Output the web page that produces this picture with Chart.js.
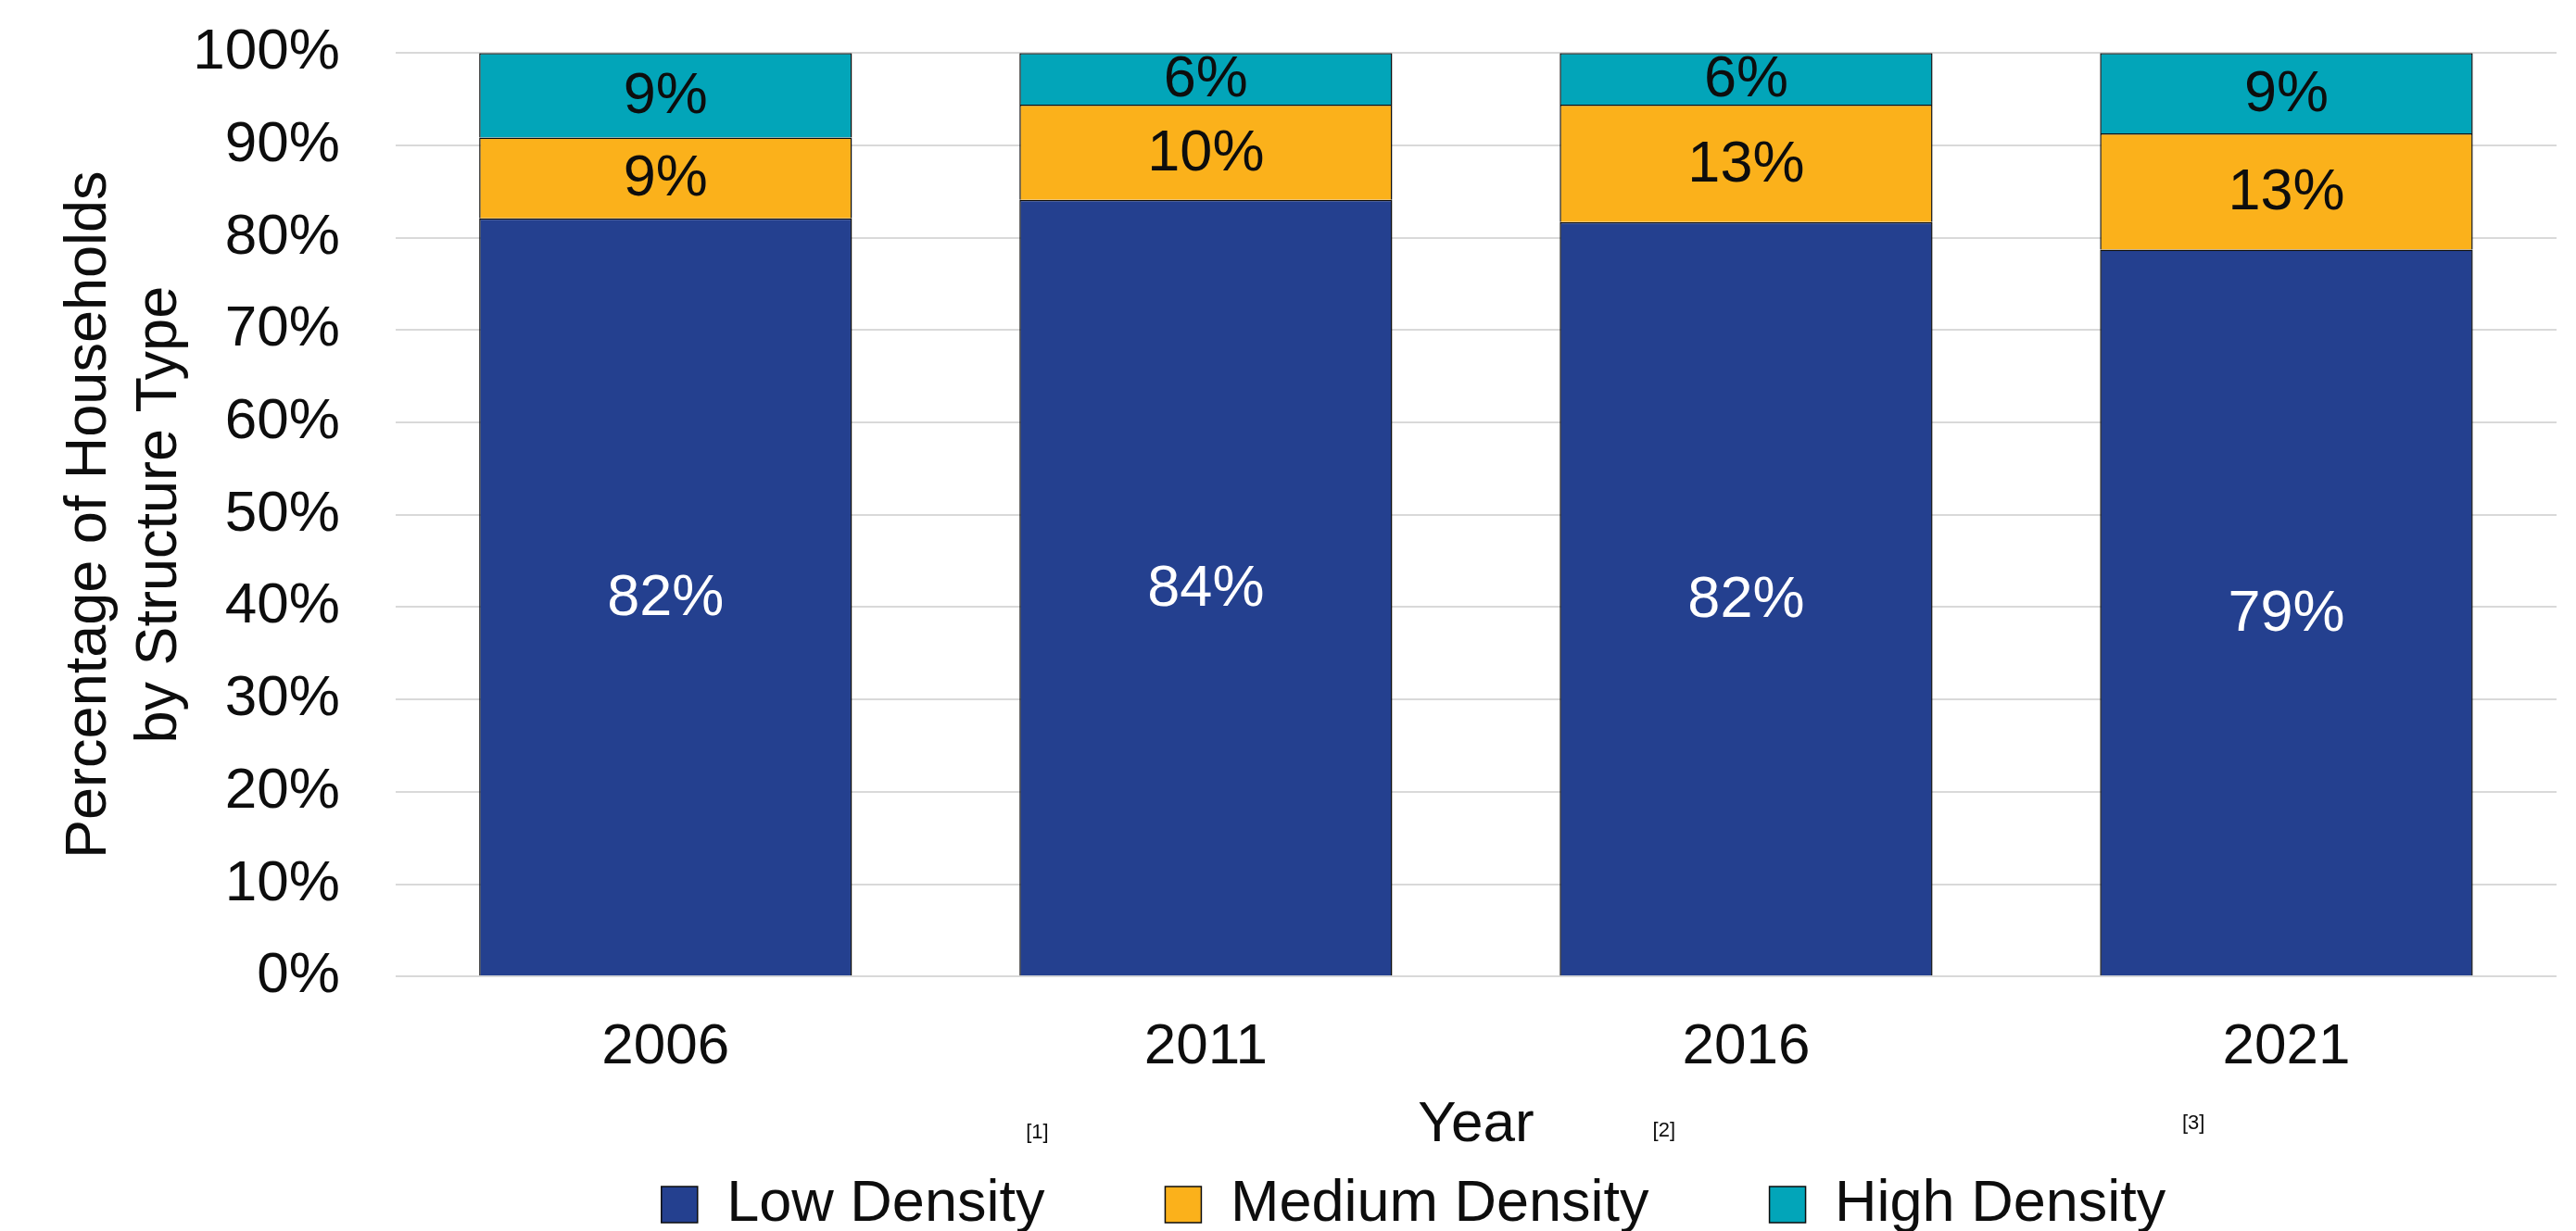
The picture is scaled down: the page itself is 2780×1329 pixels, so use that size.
<!DOCTYPE html>
<html>
<head>
<meta charset="utf-8">
<script src="https://cdn.jsdelivr.net/npm/chart.js@4.4.1/dist/chart.umd.min.js"></script>
<style>
    html, body { margin: 0; padding: 0; background: #fff; }
    #wrap { width: 2780px; height: 1329px; position: relative; }
</style>
</head>
<body>
<div id="wrap"><canvas id="myChart"></canvas></div>
<script>
const years = ['2006', '2011', '2016', '2021'];
const lowDensity = [82.1, 84.1, 81.7, 78.7];
const mediumDensity = [8.75, 10.3, 12.7, 12.6];
const highDensity = [9.15, 5.6, 5.6, 8.7];
const yTicks = [0, 10, 20, 30, 40, 50, 60, 70, 80, 90, 100];
const footnotes = ['[1]', '[2]', '[3]'];

// where the little footnote marks sit (fraction of plot width, canvas y)
const footnoteSpots = [[0.297, 1223], [0.587, 1221], [0.832, 1213]];

Chart.defaults.font.family = '"Liberation Sans", Arial, sans-serif';
Chart.defaults.color = '#0d0d0d';

// labels inside each segment
const segmentLabels = {
    id: 'segmentLabels',
    afterDatasetsDraw: (chart) => {
        const ctx = chart.ctx;
        ctx.save();
        ctx.font = '63px "Liberation Sans", Arial, sans-serif';
        ctx.textAlign = 'center';
        ctx.textBaseline = 'middle';
        chart.data.datasets.forEach((ds, i) => {
            const meta = chart.getDatasetMeta(i);
            meta.data.forEach((bar, j) => {
                const p = bar.getCenterPoint();
                ctx.fillStyle = i === 0 ? '#ffffff' : '#0d0d0d';
                ctx.fillText(Math.round(ds.data[j]) + '%', p.x, p.y + 2);
            });
        });
        ctx.restore();
    }
};

const footnoteMarks = {
    id: 'footnoteMarks',
    afterDraw: (chart) => {
        const ctx = chart.ctx;
        const area = chart.chartArea;
        ctx.save();
        ctx.font = '22px "Liberation Sans", Arial, sans-serif';
        ctx.fillStyle = '#0d0d0d';
        ctx.textAlign = 'center';
        ctx.textBaseline = 'middle';
        footnotes.forEach((t, i) => {
            const [fx, y] = footnoteSpots[i];
            ctx.fillText(t, area.left + fx * (area.right - area.left), y);
        });
        ctx.restore();
    }
};

// nudge the legend, the original is not centred on the canvas
const legendShift = {
    id: 'legendShift',
    afterLayout: (chart) => {
        const lg = chart.legend;
        lg.left += 146;
        lg.right += 146;
        lg.top -= 33;
        lg.bottom -= 33;
    }
};

const ctx = document.getElementById('myChart').getContext('2d');

const data = {
    labels: years,
    datasets: [{
        label: 'Low Density',
        data: lowDensity,
        backgroundColor: '#24408f',
        borderColor: '#0d0d0d',
        borderWidth: 1.5
    }, {
        label: 'Medium Density',
        data: mediumDensity,
        backgroundColor: '#fbb11b',
        borderColor: '#0d0d0d',
        borderWidth: 1.5
    }, {
        label: 'High Density',
        data: highDensity,
        backgroundColor: '#02a5b9',
        borderColor: '#0d0d0d',
        borderWidth: 1.5
    }]
};

const chart = new Chart(ctx, {
    type: 'bar',
    data: data,
    plugins: [segmentLabels, footnoteMarks, legendShift],
    options: {
        responsive: true,
        maintainAspectRatio: false,
        animation: false,
        categoryPercentage: 1,
        barPercentage: 0.69,
        layout: {
            padding: { top: 0, right: 21, bottom: -46, left: 0 }
        },
        plugins: {
            tooltip: { enabled: false },
            legend: {
                position: 'bottom',
                labels: {
                    boxWidth: 39,
                    boxHeight: 39,
                    padding: 130,
                    color: '#0d0d0d',
                    font: { size: 63 }
                }
            }
        },
        scales: {
            x: {
                stacked: true,
                grid: { display: false },
                border: { display: false },
                ticks: { padding: 32, color: '#0d0d0d', font: { size: 62 } },
                title: {
                    display: true,
                    text: 'Year',
                    color: '#0d0d0d',
                    font: { size: 62 },
                    padding: { top: -23, bottom: -80 }
                }
            },
            y: {
                stacked: true,
                min: 0,
                max: 100,
                afterBuildTicks: (axis) => {
                    axis.ticks = yTicks.map(v => ({ value: v }));
                },
                grid: { color: '#d9d9d9', lineWidth: 2, tickLength: 40, tickColor: 'rgba(0,0,0,0)' },
                border: { display: false },
                ticks: {
                    padding: 20,
                    color: '#0d0d0d',
                    font: { size: 62 },
                    callback: (value) => `${value}%`
                },
                title: {
                    display: true,
                    text: ['Percentage of Households', 'by Structure Type'],
                    color: '#0d0d0d',
                    font: { size: 63 },
                    padding: { top: 59, bottom: -22 }
                }
            }
        }
    }
});
</script>
</body>
</html>
